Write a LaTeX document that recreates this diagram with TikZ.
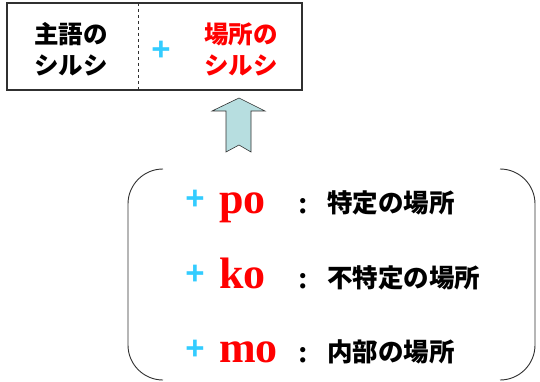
\documentclass[tikz,border=0pt]{standalone}
\usepackage{fontspec}
\setmainfont{Liberation Serif}
\newfontfamily\jp{Noto Sans CJK JP}
\newfontfamily\plusfont{Liberation Sans}
\definecolor{plusblue}{HTML}{33CCFF}
\definecolor{arrowfill}{HTML}{B7DEE0}
\definecolor{edge}{HTML}{303030}
\tikzset{
  boxtext/.style={inner sep=0pt, align=center, font=\jp\bfseries\fontsize{24.5}{31}\selectfont},
  plussign/.style={inner sep=0pt, text=plusblue, font=\plusfont\bfseries\fontsize{33}{33}\selectfont},
  suffix/.style={inner sep=0pt, anchor=base west, text=red, font=\bfseries\fontsize{44}{44}\selectfont},
  colon/.style={inner sep=0pt, anchor=base, font=\bfseries\fontsize{32}{32}\selectfont},
  meaning/.style={inner sep=0pt, anchor=west, font=\jp\bfseries\fontsize{25.5}{25.5}\selectfont},
}
\begin{document}
\begin{tikzpicture}[x=1pt,y=-1pt]
\useasboundingbox (0,0) rectangle (540,382);
% top box
\draw[line width=1.3pt, edge] (7,3) rectangle (302,90);
\draw[dashed, line width=1pt, edge] (138,3) -- (138,90);
\node[boxtext] (subj) at (71,49) {主語の\\シルシ};
\node[plussign] (plustop) at (161,51) {+};
\node[boxtext, text=red] (place) at (241,49) {場所の\\シルシ};
% arrow
\draw[fill=arrowfill, draw=edge, line width=0.6pt]
  (239,98) -- (265,111) -- (251,111) -- (251,152) -- (239,145) -- (226,152) -- (226,111) -- (212,111) -- cycle;
% brackets
\draw[edge, line width=0.9pt, rounded corners=35pt] (163,169) -- (128,169) -- (128,380) -- (163,380);
\draw[edge, line width=0.9pt, rounded corners=35pt] (500,169) -- (535,169) -- (535,380) -- (500,380);
% rows
\node[plussign] (p1) at (195,200) {+};
\node[suffix] (po) at (219,213) {po};
\node[colon] (c1) at (303,213) {:};
\node[meaning] (m1) at (327,203) {特定の場所};

\node[plussign] (p2) at (195,275) {+};
\node[suffix] (ko) at (219,288) {ko};
\node[colon] (c2) at (303,288) {:};
\node[meaning] (m2) at (327,278) {不特定の場所};

\node[plussign] (p3) at (195,350) {+};
\node[suffix] (mo) at (219,362) {mo};
\node[colon] (c3) at (303,362) {:};
\node[meaning] (m3) at (327,352) {内部の場所};
\end{tikzpicture}
\end{document}
